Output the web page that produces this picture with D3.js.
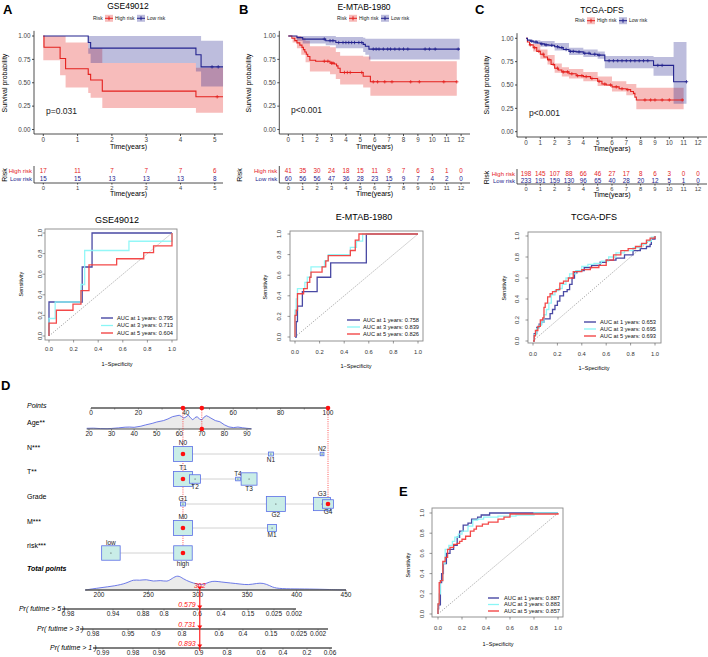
<!DOCTYPE html>
<html><head><meta charset="utf-8">
<script src="https://cdn.jsdelivr.net/npm/d3@7/dist/d3.min.js"></script>
<style>
body{margin:0;background:#fff}
text{font-family:"Liberation Sans",Arial,Helvetica,sans-serif}
</style></head>
<body><svg id="c" width="708" height="657"></svg>
<script>
// ================= DATA =================
// ---- KM panel A: GSE49012 ----
const A_highTime = [0,0.02,0.49,0.65,1.31,1.38,1.72,4.45];
const A_highSurv = [1,0.88,0.76,0.65,0.59,0.53,0.41,0.35];
const A_highEnd = 5.24;
const A_highCens = [5.07];
const A_highBandTime = [0,0.49,0.65,1.31,1.38,1.72,4.45];
const A_highUpper = [1,1,0.93,0.87,0.87,0.71,0.66];
const A_highLower = [0.74,0.58,0.45,0.39,0.34,0.23,0.18];
const A_lowTime = [0,1.31,1.38,4.45,4.6];
const A_lowSurv = [1,0.93,0.87,0.8,0.67];
const A_lowEnd = 5.24;
const A_lowCens = [4.92,5.1];
const A_lowBandTime = [1.31,1.38,4.45,4.6];
const A_lowUpper = [1,1,1,0.95];
const A_lowLower = [0.81,0.71,0.62,0.46];
const A_ticks = [0,1,2,3,4,5];
const A_riskHigh = [17,11,7,7,7,6];
const A_riskLow = [15,15,13,13,13,8];

// ---- KM panel B: E-MTAB-1980 ----
const B_highTime = [0,0.25,0.45,0.6,0.8,0.95,1.05,1.15,1.25,1.35,1.5,1.9,2.9,3.2,3.35,3.45,3.6,5.2,5.7];
const B_highSurv = [1,0.976,0.951,0.927,0.902,0.878,0.854,0.829,0.805,0.78,0.74,0.73,0.71,0.70,0.68,0.655,0.61,0.57,0.51];
const B_highEnd = 11.7;
const B_highCens = [2.5,2.75,3.0,3.1,3.9,4.1,4.3,5.1,5.9,6.2,6.7,7.2,8.5,9.1,10.8,11.7];
const B_highBandTime = [0,0.3,0.6,0.9,1.2,1.5,2.9,3.3,3.6,5.2,5.7];
const B_highUpper = [1,1,1,0.98,0.95,0.89,0.88,0.83,0.79,0.78,0.73];
const B_highLower = [1,0.93,0.87,0.8,0.72,0.62,0.59,0.54,0.48,0.45,0.36];
const B_lowTime = [0,0.6,1.0,2.6,3.3,5.2,5.35,5.6];
const B_lowSurv = [1,0.983,0.967,0.95,0.93,0.91,0.89,0.86];
const B_lowEnd = 11.9;
const B_lowCens = [2.5,2.9,3.1,3.5,3.8,4.0,4.2,4.4,4.6,4.9,5.1,5.9,6.1,6.3,6.6,6.9,7.1,7.4,7.7,8.0,8.3,9.5,9.8,10.2,11.8];
const B_lowBandTime = [0.6,1.0,2.6,3.3,5.2,5.35,5.6];
const B_lowUpper = [1,1,1,0.99,0.98,0.97,0.97];
const B_lowLower = [0.95,0.92,0.90,0.87,0.83,0.80,0.75];
const B_ticks = [0,1,2,3,4,5,6,7,8,9,10,11,12];
const B_riskHigh = [41,35,30,24,18,15,11,9,7,6,3,1,0];
const B_riskLow = [60,56,56,47,36,28,23,15,9,7,4,2,0];

// ---- KM panel C: TCGA-DFS ----
const C_highTime = [0,0.1,0.25,0.5,0.75,1,1.25,1.5,1.75,2,2.25,2.5,3,3.5,4,4.5,5,5.3,5.6,6,6.5,7,7.3,7.5,7.6,7.7];
const C_highSurv = [1,0.96,0.93,0.9,0.86,0.83,0.8,0.77,0.72,0.68,0.66,0.64,0.62,0.60,0.59,0.57,0.54,0.51,0.50,0.48,0.46,0.45,0.43,0.41,0.37,0.34];
const C_highEnd = 11.0;
const C_highCens = [0.3,0.6,0.9,1.2,1.6,1.9,2.2,2.6,2.9,3.2,3.6,3.9,4.2,4.6,5.1,5.5,5.9,6.3,6.7,7.1,8.3,8.7,9.0,9.5,10.0,10.9];
const C_highBandTime = [0,0.5,1,1.5,2,2.5,3,4,5,6,7,7.7];
const C_highUpper = [1,0.94,0.88,0.82,0.73,0.69,0.67,0.64,0.59,0.54,0.51,0.47];
const C_highLower = [1,0.86,0.78,0.72,0.63,0.59,0.57,0.54,0.49,0.43,0.39,0.24];
const C_lowTime = [0,0.1,0.3,0.5,0.8,1,1.3,1.6,2,2.3,2.6,3,3.5,4,4.5,5,5.5,8.9,10.3];
const C_lowSurv = [1,0.98,0.97,0.96,0.95,0.94,0.93,0.925,0.91,0.9,0.88,0.86,0.855,0.84,0.83,0.82,0.76,0.71,0.535];
const C_lowEnd = 11.2;
const C_lowCens = [0.4,0.7,1.1,1.4,1.8,2.2,2.5,2.8,3.1,3.3,3.7,4.1,4.4,4.8,5.1,5.8,6.1,6.4,6.7,7.0,7.3,7.6,7.9,8.2,8.5,9.2,9.5,11.2];
const C_lowBandTime = [0,0.5,1,2,3,4,5,5.5,8.9,10.3];
const C_lowUpper = [1,0.98,0.97,0.95,0.9,0.88,0.86,0.81,0.8,0.96];
const C_lowLower = [1,0.94,0.91,0.87,0.82,0.8,0.78,0.68,0.60,0.30];
const C_ticks = [0,1,2,3,4,5,6,7,8,9,10,11,12];
const C_riskHigh = [198,145,107,88,66,46,27,17,8,6,3,0,0];
const C_riskLow = [233,191,159,130,96,65,40,28,20,12,5,1,0];

const survTicks = [0,0.25,0.5,0.75,1];
const riskGroups = ["High risk","Low risk"];

// ---- ROC curves ----
const rocTicks = [0,0.2,0.4,0.6,0.8,1.0];
const rocLegend = ["AUC at 1 years: ","AUC at 3 years: ","AUC at 5 years: "];
const rA1_fpr = [0,0,0.27,0.27,0.35,0.35,1];
const rA1_tpr = [0,0.33,0.33,0.67,0.67,1,1];
const rA3_fpr = [0,0,0.05,0.05,0.26,0.26,0.29,0.29,0.65,0.65,1,1];
const rA3_tpr = [0,0.17,0.17,0.33,0.33,0.5,0.5,0.83,0.83,0.92,0.92,1];
const rA5_fpr = [0,0,0.06,0.06,0.195,0.195,0.26,0.26,0.325,0.325,0.55,0.55,0.77,0.77,0.85,0.85,1,1];
const rA5_tpr = [0,0.125,0.125,0.25,0.25,0.31,0.31,0.44,0.44,0.69,0.69,0.75,0.75,0.81,0.81,0.875,0.875,1];
const rA_auc = ["0.795","0.713","0.604"];
const rB1_fpr = [0,0.01,0.01,0.02,0.02,0.06,0.06,0.18,0.18,0.29,0.29,0.58,0.58,1];
const rB1_tpr = [0,0,0.15,0.15,0.3,0.3,0.44,0.44,0.58,0.58,0.72,0.72,1,1];
const rB3_fpr = [0,0,0.01,0.01,0.02,0.02,0.08,0.08,0.1,0.1,0.13,0.13,0.24,0.24,0.27,0.27,0.45,0.45,0.5,0.5,0.55,0.55,1];
const rB3_tpr = [0,0.26,0.26,0.37,0.37,0.47,0.47,0.53,0.53,0.58,0.58,0.68,0.68,0.74,0.74,0.8,0.8,0.87,0.87,0.93,0.93,1,1];
const rB5_fpr = [0,0,0.01,0.01,0.02,0.02,0.07,0.07,0.1,0.1,0.12,0.12,0.13,0.13,0.22,0.22,0.25,0.25,0.27,0.27,0.45,0.45,0.49,0.49,0.52,0.52,1];
const rB5_tpr = [0,0.21,0.21,0.26,0.26,0.42,0.42,0.47,0.47,0.53,0.53,0.58,0.58,0.63,0.63,0.68,0.68,0.74,0.74,0.79,0.79,0.84,0.84,0.94,0.94,1,1];
const rB_auc = ["0.758","0.839","0.826"];
const rC1_fpr = [0,0.01,0.03,0.05,0.07,0.09,0.12,0.14,0.16,0.18,0.2,0.22,0.25,0.28,0.3,0.32,0.34,0.36,0.42,0.48,0.55,0.6,0.68,0.75,0.82,0.88,0.93,0.96,0.97,1];
const rC1_tpr = [0,0.07,0.13,0.16,0.18,0.21,0.21,0.26,0.3,0.34,0.38,0.43,0.47,0.49,0.54,0.6,0.65,0.67,0.7,0.72,0.75,0.77,0.79,0.82,0.86,0.88,0.9,0.92,0.97,1];
const rC3_fpr = [0,0.01,0.03,0.05,0.07,0.09,0.11,0.13,0.15,0.18,0.21,0.24,0.27,0.3,0.35,0.4,0.45,0.5,0.56,0.62,0.68,0.75,0.82,0.88,0.93,0.97,1];
const rC3_tpr = [0,0.06,0.12,0.15,0.18,0.25,0.3,0.36,0.44,0.48,0.5,0.54,0.6,0.64,0.67,0.71,0.73,0.74,0.76,0.8,0.84,0.86,0.89,0.92,0.95,0.99,1];
const rC5_fpr = [0,0.01,0.02,0.04,0.06,0.08,0.09,0.1,0.12,0.14,0.16,0.19,0.22,0.25,0.29,0.33,0.4,0.47,0.54,0.6,0.66,0.72,0.78,0.84,0.89,0.93,0.96,1];
const rC5_tpr = [0,0.05,0.1,0.14,0.2,0.22,0.32,0.36,0.42,0.45,0.47,0.49,0.55,0.57,0.6,0.66,0.68,0.7,0.72,0.77,0.82,0.86,0.88,0.9,0.93,0.96,0.98,1];
const rC_auc = ["0.653","0.695","0.693"];
const rE1_fpr = [0,0,0.005,0.02,0.03,0.045,0.07,0.1,0.13,0.16,0.18,0.21,0.25,0.28,0.33,0.36,0.43,1];
const rE1_tpr = [0,0.05,0.09,0.31,0.4,0.5,0.6,0.64,0.68,0.76,0.82,0.88,0.9,0.94,0.96,0.98,1,1];
const rE3_fpr = [0,0,0.01,0.02,0.04,0.06,0.09,0.12,0.14,0.17,0.2,0.25,0.29,0.33,0.38,0.5,0.65,0.8,1];
const rE3_tpr = [0,0.1,0.2,0.33,0.5,0.64,0.68,0.72,0.76,0.79,0.82,0.87,0.93,0.94,0.96,0.97,0.98,1,1];
const rE5_fpr = [0,0,0.01,0.02,0.04,0.06,0.08,0.1,0.13,0.16,0.18,0.2,0.23,0.27,0.3,0.32,0.37,0.42,0.5,0.55,0.6,0.92,1];
const rE5_tpr = [0,0.1,0.31,0.33,0.52,0.56,0.64,0.66,0.69,0.7,0.72,0.74,0.77,0.82,0.84,0.87,0.89,0.91,0.94,0.96,0.99,0.99,1];
const rE_auc = ["0.887","0.883","0.857"];

// ---- Nomogram ----
const pointTicks = [0,20,40,60,80,100];
const ageTicks = [20,30,40,50,60,70,80,90];
const ageRange = [20,90];
const agePointsRange = [-0.84,65.8];
const ageGrid = [19,22,25,28,30,33,36,38,40,43,45,48,50,53,55,57,59,60,61,62,63,64,65,66,67,68,69,70,71,72,73,74,76,78,80,82,84,86,88,90,92];
const ageDensity = [0.05,0.06,0.03,0.02,0.04,0.08,0.13,0.14,0.12,0.2,0.29,0.4,0.5,0.6,0.72,0.88,0.95,0.98,0.9,0.78,0.86,1.0,0.8,0.65,0.82,0.88,0.7,0.65,0.85,0.95,0.88,0.78,0.6,0.52,0.3,0.15,0.1,0.14,0.09,0.05,0.02];
const nomoVars = ["N***","T**","Grade","M***","risk***"];
const nomoLevels = [["N0","N1","N2"],["T1","T2","T4","T3"],["G1","G2","G3","G4"],["M0","M1"],["low","high"]];
const nomoPoints = [[38.8,75.9,97.5],[38.8,43.9,62,66.7],[38.8,78,97.5,100],[38.8,76.4],[8.4,38.8]];
const nomoShare = [[1,0.07,0.04],[1,0.33,0.06,0.7],[0.07,1,0.8,0.33],[1,0.22],[0.95,0.95]];
const nomoChosen = ["N0","T1","G4","M0","high"];
const patientAge = 70;
const totalTicks = [200,250,300,350,400,450];
const totalRange = [186,450];
const totalGrid = [186,201,216,228,235,241,248,255,262,269,274,280,285,292,299,305,312,317,324,333,343,351,360,366,373,378,393,413,434,450];
const totalDensity = [0,0.15,0.27,0.45,0.71,0.62,0.73,0.55,0.67,0.53,0.78,1.0,0.75,0.53,0.4,0.33,0.55,0.6,0.53,0.47,0.4,0.33,0.45,0.47,0.29,0.11,0.07,0.07,0.03,0];
const totalScore = 302;
const prLabels = ["Pr( futime > 5 )","Pr( futime > 3 )","Pr( futime > 1 )"];
const prTickLabels = [
  ["0.98","0.94","0.88","0.8","0.6","0.4","0.15","0.025","0.002"],
  ["0.98","0.95","0.9","0.8","0.6","0.4","0.15","0.025","0.002"],
  ["0.99","0.98","0.96","0.9","0.8","0.6","0.4","0.2","0.06"]];
const prTickPoints = [
  [168.6,214.2,244.5,265.8,299.5,323.5,350.8,377.1,397.4],
  [193.9,229.4,257.7,284,321.5,345.7,374.1,402.4,421.7],
  [204,234.4,260.7,301.2,329.6,364,386.2,410.5,433.8]];
const prRanges = [[162.5,399.4],[180.8,431.8],[193.9,435.8]];
const prValues = ["0.579","0.731","0.893"];

// ================= DRAWING =================
const svg = d3.select("#c");
const colHigh = "#E4211E", colLow = "#23238E";
const rocCols = ["#3A3A9C","#8AF6F6","#F23A3A"];

function T(g, x, y, s, o={}) {
  const t = g.append("text").attr("x",x).attr("y",y).attr("dy","0.35em").text(s)
    .attr("font-size", o.size||7).attr("text-anchor", o.anchor||"start")
    .attr("fill", o.fill||"#000");
  if (o.rot) t.attr("transform",`rotate(${o.rot},${x},${y})`);
  if (o.weight) t.attr("font-weight", o.weight);
  if (o.style) t.attr("font-style", o.style);
  return t;
}
function stepAt(ts, vs, t){ let v=vs[0]; ts.forEach((ti,i)=>{ if(ti<=t) v=vs[i]; }); return v; }

function drawKM(L, D) {
  const g = svg.append("g");
  const x = d3.scaleLinear().domain([0,1]).range([L.x0, L.x0+L.ppy]);
  const y = d3.scaleLinear().domain([0,1]).range([L.y0, L.y1]);
  const groups = [
    {c:colHigh, t:D.hT, s:D.hS, end:D.hE, cens:D.hC, bt:D.hBT, bu:D.hBU, bl:D.hBL},
    {c:colLow, t:D.lT, s:D.lS, end:D.lE, cens:D.lC, bt:D.lBT, bu:D.lBU, bl:D.lBL}];
  groups.forEach(G=>{
    const pts = G.bt.map((t,i)=>({t, lo:G.bl[i], up:G.bu[i]}));
    pts.push({t:G.end, lo:G.bl[G.bl.length-1], up:G.bu[G.bu.length-1]});
    g.append("path").datum(pts)
      .attr("d", d3.area().curve(d3.curveStepAfter).x(d=>x(d.t)).y0(d=>y(d.lo)).y1(d=>y(d.up)))
      .attr("fill", G.c).attr("fill-opacity", 0.3);
  });
  groups.forEach(G=>{
    const pts = G.t.map((t,i)=>[t,G.s[i]]); pts.push([G.end, G.s[G.s.length-1]]);
    g.append("path").datum(pts)
      .attr("d", d3.line().curve(d3.curveStepAfter).x(d=>x(d[0])).y(d=>y(d[1])))
      .attr("fill","none").attr("stroke",G.c).attr("stroke-width",1.1);
    G.cens.forEach(c=>{
      const cx=x(c), cy=y(stepAt(G.t,G.s,c));
      g.append("path").attr("d",`M${cx-1.7},${cy}h3.4M${cx},${cy-1.7}v3.4`).attr("stroke",G.c).attr("stroke-width",0.8);
    });
  });
  const ax = g.append("g").attr("stroke","#222").attr("stroke-width",0.8);
  ax.append("line").attr("x1",L.ax).attr("x2",L.ax).attr("y1",L.axY).attr("y2",y(1.055));
  ax.append("line").attr("x1",L.ax).attr("x2",L.right).attr("y1",L.axY).attr("y2",L.axY);
  survTicks.forEach(v=>{
    ax.append("line").attr("x1",L.ax-2).attr("x2",L.ax).attr("y1",y(v)).attr("y2",y(v));
    T(g, L.ax-3.5, y(v), d3.format(".2f")(v), {size:6.3, anchor:"end", fill:"#444"});
  });
  D.ticks.forEach(v=>{
    ax.append("line").attr("x1",x(v)).attr("x2",x(v)).attr("y1",L.axY).attr("y2",L.axY+2);
    T(g, x(v), L.xTickLab, v, {size:6.3, anchor:"middle", fill:"#444"});
  });
  const cx = (L.ax+L.right)/2;
  T(g, cx, L.xTitle, "Time(years)", {size:7, anchor:"middle"});
  T(g, L.ytitleX, L.ytitleY, "Survival probability", {size:7, anchor:"middle", rot:-90});
  T(g, L.pX, L.pY, D.p, {size:8.5, fill:"#222"});
  T(g, L.titleX, L.titleY, D.title, {size:8.5, anchor:"middle"});
  T(g, L.legX, L.legY, "Risk", {size:5, fill:"#222"});
  [[colHigh,L.legX+12],[colLow,L.legX+44]].forEach(([c,lx],i)=>{
    g.append("rect").attr("x",lx).attr("y",L.legY-3.5).attr("width",8).attr("height",7).attr("fill",c).attr("fill-opacity",0.3);
    g.append("path").attr("d",`M${lx},${L.legY}h8M${lx+4},${L.legY-2}v4`).attr("stroke",c).attr("stroke-width",1);
    T(g, lx+10, L.legY, riskGroups[i], {size:5, fill:"#222"});
  });
  ax.append("line").attr("x1",L.ax).attr("x2",L.ax).attr("y1",L.rHigh-5).attr("y2",L.rAxis);
  ax.append("line").attr("x1",L.ax).attr("x2",L.right).attr("y1",L.rAxis).attr("y2",L.rAxis);
  T(g, L.ax-2, L.rHigh, riskGroups[0], {size:6, anchor:"end", fill:colHigh});
  T(g, L.ax-2, L.rLow, riskGroups[1], {size:6, anchor:"end", fill:colLow});
  D.ticks.forEach((v,i)=>{
    T(g, x(v), L.rHigh, D.rH[i], {size:6.3, anchor:"middle", fill:colHigh});
    T(g, x(v), L.rLow, D.rL[i], {size:6.3, anchor:"middle", fill:colLow});
    ax.append("line").attr("x1",x(v)).attr("x2",x(v)).attr("y1",L.rAxis).attr("y2",L.rAxis+1.5);
    T(g, x(v), L.rTick, v, {size:5.8, anchor:"middle", fill:"#444"});
  });
  T(g, cx, L.rTitle, "Time(years)", {size:7, anchor:"middle"});
  T(g, L.riskX, (L.rHigh+L.rLow)/2, "Risk", {size:7, anchor:"middle", rot:-90});
}

drawKM({ax:34,x0:43.3,ppy:34.3,y0:129.5,y1:36,axY:134,right:223,xTickLab:140,xTitle:146.5,ytitleX:5,ytitleY:83,
  pX:46,pY:111,titleX:128,titleY:6,legX:93,legY:18.3,rHigh:171,rLow:179,rAxis:183,rTick:187.5,rTitle:193.5,riskX:5},
  {hT:A_highTime,hS:A_highSurv,hE:A_highEnd,hC:A_highCens,hBT:A_highBandTime,hBU:A_highUpper,hBL:A_highLower,
   lT:A_lowTime,lS:A_lowSurv,lE:A_lowEnd,lC:A_lowCens,lBT:A_lowBandTime,lBU:A_lowUpper,lBL:A_lowLower,
   ticks:A_ticks,rH:A_riskHigh,rL:A_riskLow,p:"p=0.031",title:"GSE49012"});
drawKM({ax:279.3,x0:288.3,ppy:14.4,y0:129.5,y1:36,axY:134,right:470,xTickLab:140,xTitle:146.5,ytitleX:249,ytitleY:83,
  pX:291,pY:110,titleX:364,titleY:7,legX:337,legY:18.3,rHigh:171,rLow:179,rAxis:183,rTick:187.5,rTitle:193.5,riskX:240},
  {hT:B_highTime,hS:B_highSurv,hE:B_highEnd,hC:B_highCens,hBT:B_highBandTime,hBU:B_highUpper,hBL:B_highLower,
   lT:B_lowTime,lS:B_lowSurv,lE:B_lowEnd,lC:B_lowCens,lBT:B_lowBandTime,lBU:B_lowUpper,lBL:B_lowLower,
   ticks:B_ticks,rH:B_riskHigh,rL:B_riskLow,p:"p<0.001",title:"E-MTAB-1980"});
drawKM({ax:517,x0:526,ppy:14.33,y0:131.7,y1:38.3,axY:137,right:707,xTickLab:142.5,xTitle:148.5,ytitleX:487,ytitleY:85,
  pX:529,pY:113,titleX:602,titleY:10,legX:575,legY:20.7,rHigh:174,rLow:181,rAxis:184,rTick:188.5,rTitle:194.5,riskX:487},
  {hT:C_highTime,hS:C_highSurv,hE:C_highEnd,hC:C_highCens,hBT:C_highBandTime,hBU:C_highUpper,hBL:C_highLower,
   lT:C_lowTime,lS:C_lowSurv,lE:C_lowEnd,lC:C_lowCens,lBT:C_lowBandTime,lBU:C_lowUpper,lBL:C_lowLower,
   ticks:C_ticks,rH:C_riskHigh,rL:C_riskLow,p:"p<0.001",title:"TCGA-DFS"});

function drawROC(L, curves, auc, title, stepped) {
  const g = svg.append("g");
  const x = d3.scaleLinear().domain([0,1]).range([L.x0, L.x1]);
  const y = d3.scaleLinear().domain([0,1]).range([L.y0, L.y1]);
  g.append("rect").attr("x",L.box[0]).attr("y",L.box[2]).attr("width",L.box[1]-L.box[0]).attr("height",L.box[3]-L.box[2])
    .attr("fill","none").attr("stroke","#888").attr("stroke-width",0.9);
  rocTicks.forEach(v=>{
    g.append("line").attr("x1",x(v)).attr("x2",x(v)).attr("y1",L.box[3]).attr("y2",L.box[3]+2.5).attr("stroke","#555").attr("stroke-width",0.6);
    T(g, x(v), L.xLabY, d3.format(".1f")(v), {size:5.8, anchor:"middle", fill:"#333"});
    g.append("line").attr("x1",L.box[0]-2.5).attr("x2",L.box[0]).attr("y1",y(v)).attr("y2",y(v)).attr("stroke","#555").attr("stroke-width",0.6);
    T(g, L.yLabX, y(v), d3.format(".1f")(v), {size:5.8, anchor:"middle", fill:"#333", rot:-90});
  });
  g.append("line").attr("x1",x(0)).attr("y1",y(0)).attr("x2",x(1)).attr("y2",y(1))
    .attr("stroke","#666").attr("stroke-width",0.7).attr("stroke-dasharray","1,1.6");
  const line = d3.line().x(d=>x(d[0])).y(d=>y(d[1]));
  if (stepped) line.curve(d3.curveStepAfter);
  curves.forEach((cv,i)=>{
    const pts = cv[0].map((f,j)=>[f,cv[1][j]]);
    g.append("path").datum(pts).attr("d",line).attr("fill","none").attr("stroke",rocCols[i]).attr("stroke-width",1.3).attr("stroke-opacity",0.92);
  });
  if (title) T(g, L.title[0], L.title[1], title, {size:9, anchor:"middle"});
  T(g, L.xTitle[0], L.xTitle[1], "1\u2212Specificity", {size:5.5, anchor:"middle"});
  T(g, L.yTitle[0], L.yTitle[1], "Sensitivity", {size:5.5, anchor:"middle", rot:-90});
  L.leg.rows.forEach((ry,i)=>{
    g.append("line").attr("x1",L.leg.x1).attr("x2",L.leg.x2).attr("y1",ry).attr("y2",ry).attr("stroke",rocCols[i]).attr("stroke-width",1.3);
    T(g, L.leg.tx, ry, rocLegend[i]+auc[i], {size:5.7, fill:"#111"});
  });
}
drawROC({box:[45,177,229,340],x0:49,x1:172,y0:336,y1:233,title:[117,220],xLabY:349,xTitle:[117,364],yTitle:[21,284],yLabX:40,
  leg:{x1:101,x2:113,tx:117,rows:[318,325.5,333]}}, [[rA1_fpr,rA1_tpr],[rA3_fpr,rA3_tpr],[rA5_fpr,rA5_tpr]], rA_auc, "GSE49012", false);
drawROC({box:[290,423,231,341],x0:295,x1:418,y0:337,y1:234,title:[364,217],xLabY:352,xTitle:[356,366],yTitle:[265,287],yLabX:279,
  leg:{x1:347,x2:360,tx:363,rows:[320,327,334]}}, [[rB1_fpr,rB1_tpr],[rB3_fpr,rB3_tpr],[rB5_fpr,rB5_tpr]], rB_auc, "E-MTAB-1980", false);
drawROC({box:[528,661,232,343],x0:533,x1:655,y0:341,y1:236,title:[594,217],xLabY:354,xTitle:[594,368],yTitle:[504,288],yLabX:517,
  leg:{x1:584,x2:596,tx:600,rows:[322,329,336]}}, [[rC1_fpr,rC1_tpr],[rC3_fpr,rC3_tpr],[rC5_fpr,rC5_tpr]], rC_auc, "TCGA-DFS", true);
drawROC({box:[432,563,508,617],x0:438,x1:558,y0:614,y1:513,title:null,xLabY:628,xTitle:[498,644],yTitle:[408,565],yLabX:422,
  leg:{x1:488,x2:499,tx:504,rows:[598,604.5,611]}}, [[rE1_fpr,rE1_tpr],[rE3_fpr,rE3_tpr],[rE5_fpr,rE5_tpr]], rE_auc, null, true);

(function(){
  const g = svg.append("g");
  const px = d3.scaleLinear().domain([0,100]).range([91,328]);
  const ageP = d3.scaleLinear().domain(ageRange).range(agePointsRange);
  const tx = d3.scaleLinear().domain([200,450]).range([99,346]);
  const axisCol = "#555";
  const fs = 6.5;
  const labX = 27;
  const yP = 408;
  T(g, labX, 406, "Points", {size:7, style:"italic"});
  g.append("line").attr("x1",px(0)).attr("x2",px(100)).attr("y1",yP).attr("y2",yP).attr("stroke",axisCol).attr("stroke-width",1.3);
  d3.range(0,101,10).forEach(v=>g.append("line").attr("x1",px(v)).attr("x2",px(v)).attr("y1",yP).attr("y2",yP+1.5).attr("stroke",axisCol).attr("stroke-width",0.7));
  pointTicks.forEach(v=>T(g, px(v), yP+5, v, {size:fs, anchor:"middle", fill:"#222"}));
  const yA = 429;
  T(g, labX, 423, "Age**", {size:7});
  const dh = d3.scaleLinear().domain([0,1]).range([0,14]);
  const agePts = ageGrid.map((a,i)=>[px(ageP(a)), yA - dh(ageDensity[i])]);
  g.append("path").attr("d", d3.area().x(d=>d[0]).y0(yA).y1(d=>d[1])(agePts)).attr("fill","#ebebeb");
  g.append("path").attr("d", d3.line()(agePts)).attr("fill","none").attr("stroke","#4a5be3").attr("stroke-width",0.8);
  g.append("line").attr("x1",px(ageP(19))).attr("x2",px(ageP(92))).attr("y1",yA).attr("y2",yA).attr("stroke",axisCol).attr("stroke-width",1.1);
  ageTicks.forEach(v=>{
    g.append("line").attr("x1",px(ageP(v))).attr("x2",px(ageP(v))).attr("y1",yA).attr("y2",yA+1.5).attr("stroke",axisCol).attr("stroke-width",0.7);
    T(g, px(ageP(v)), yA+4.5, v, {size:fs, anchor:"middle", fill:"#222"});
  });
  const rowY = [454,479,504,528,553];
  const labY = [448,472,497,522,546];
  const selX = px(nomoPoints[0][0]);
  const red = "#FF1010";
  const dotted = (x1,y1,y2)=>g.append("line").attr("x1",x1).attr("x2",x1).attr("y1",y1).attr("y2",y2).attr("stroke",red).attr("stroke-width",0.7).attr("stroke-dasharray","1,1.2");
  dotted(selX, yP, rowY[4]);
  dotted(px(ageP(patientAge)), yP, yA);
  dotted(px(100), yP, rowY[2]);
  nomoVars.forEach((v,i)=>{
    T(g, labX, labY[i], v, {size:7});
    const xs = nomoPoints[i].map(p=>px(p));
    g.append("line").attr("x1",d3.min(xs)).attr("x2",d3.max(xs)).attr("y1",rowY[i]).attr("y2",rowY[i]).attr("stroke","#d2d2d2").attr("stroke-width",1);
  });
  nomoVars.forEach((v,i)=>{
    const order = d3.range(nomoLevels[i].length).sort((a,b)=>nomoPoints[i][a]-nomoPoints[i][b]);
    order.forEach((k,rank)=>{
      const cx = px(nomoPoints[i][k]);
      const share = nomoShare[i][k] || 0.05;
      const w = Math.max(3.5, 19*Math.sqrt(share)), h = Math.max(3.5, w*0.78);
      g.append("rect").attr("x",cx-w/2).attr("y",rowY[i]-h/2).attr("width",w).attr("height",h)
        .attr("fill","#c9ede7").attr("stroke","#5a6ee6").attr("stroke-width",0.8);
      g.append("circle").attr("cx",cx).attr("cy",rowY[i]).attr("r",0.5).attr("fill","#222");
      const ly = rank%2===0 ? rowY[i]-h/2-3.5 : rowY[i]+h/2+3.5;
      T(g, cx, ly, nomoLevels[i][k], {size:fs, anchor:"middle", fill:"#222"});
      if (nomoChosen.includes(nomoLevels[i][k])) g.append("circle").attr("cx",cx).attr("cy",rowY[i]).attr("r",2.3).attr("fill",red);
    });
  });
  [selX, px(ageP(patientAge)), px(100)].forEach(xx=>g.append("circle").attr("cx",xx).attr("cy",yP).attr("r",2.3).attr("fill",red));
  g.append("circle").attr("cx",px(ageP(patientAge))).attr("cy",yA).attr("r",2.3).attr("fill",red);
  const yT = 590;
  T(g, labX, 569, "Total points", {size:7, weight:"bold", style:"italic"});
  const th = d3.scaleLinear().domain([0,1]).range([0,15]);
  const tPts = totalGrid.map((t,i)=>[tx(t), yT - th(totalDensity[i])]);
  g.append("path").attr("d", d3.area().x(d=>d[0]).y0(yT).y1(d=>d[1]).curve(d3.curveBasis)(tPts)).attr("fill","#ebebeb");
  g.append("path").attr("d", d3.line().curve(d3.curveBasis)(tPts)).attr("fill","none").attr("stroke","#4a5be3").attr("stroke-width",0.8);
  g.append("line").attr("x1",tx(totalRange[0])).attr("x2",tx(totalRange[1])).attr("y1",yT).attr("y2",yT).attr("stroke",axisCol).attr("stroke-width",1.3);
  totalTicks.forEach(v=>{
    g.append("line").attr("x1",tx(v)).attr("x2",tx(v)).attr("y1",yT).attr("y2",yT+1.5).attr("stroke",axisCol).attr("stroke-width",0.7);
    T(g, tx(v), yT+4.5, v, {size:fs, anchor:"middle", fill:"#222"});
  });
  const prY = [609,629,648];
  prLabels.forEach((lab,i)=>{
    g.append("line").attr("x1",tx(prRanges[i][0])).attr("x2",tx(prRanges[i][1])).attr("y1",prY[i]).attr("y2",prY[i]).attr("stroke",axisCol).attr("stroke-width",1.3);
    T(g, tx(prRanges[i][0])+3.5, prY[i]-0.5, lab, {size:7, anchor:"end", style:"italic"});
    prTickLabels[i].forEach((tl,j)=>{
      g.append("line").attr("x1",tx(prTickPoints[i][j])).attr("x2",tx(prTickPoints[i][j])).attr("y1",prY[i]).attr("y2",prY[i]+1.5).attr("stroke",axisCol).attr("stroke-width",0.7);
      T(g, tx(prTickPoints[i][j]), prY[i]+4.5, tl, {size:fs, anchor:"middle", fill:"#222"});
    });
  });
  const xs = tx(totalScore);
  g.append("line").attr("x1",xs).attr("x2",xs).attr("y1",yT).attr("y2",prY[2]+3).attr("stroke",red).attr("stroke-width",1.1);
  [yT].concat(prY).forEach(yy=>g.append("path").attr("d",`M${xs-2.5},${yy-3.5}L${xs+2.5},${yy-3.5}L${xs},${yy}Z`).attr("fill",red));
  T(g, xs, yT-4, totalScore, {size:7, anchor:"middle", fill:red, style:"italic"});
  prValues.forEach((pv,i)=>T(g, xs-4, prY[i]-4.5, pv, {size:7, anchor:"end", fill:red, style:"italic"}));
})();

[["A",3,9.8],["B",239,9.8],["C",475,9.8],["D",1,385],["E",399,491]].forEach(([s,x,y])=>T(svg,x,y,s,{size:13,weight:"bold"}));
</script></body></html>
